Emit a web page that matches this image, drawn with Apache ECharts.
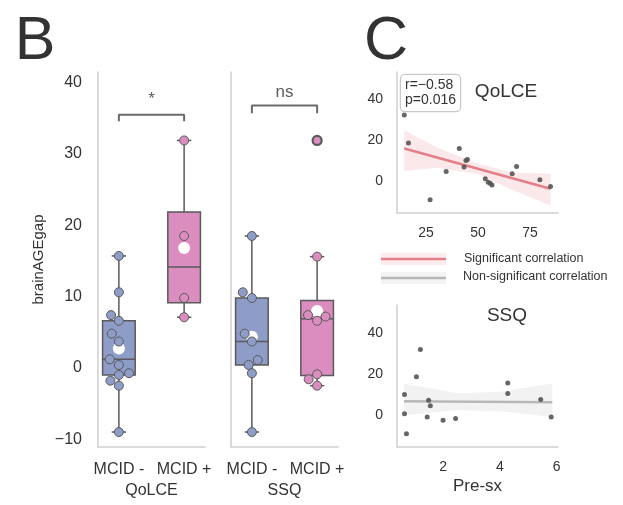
<!DOCTYPE html>
<html>
<head>
<meta charset="utf-8">
<script src="https://cdn.jsdelivr.net/npm/echarts@6/dist/echarts.min.js"></script>
<style>
  html, body { margin: 0; padding: 0; background: #fff; }
  #chart { width: 623px; height: 505px; }
</style>
</head>
<body>
<div id="chart"></div>
<script>
// ---- panel B: brainAGEgap by group (values + swarm offsets in category units)
const groupLabels = ['MCID -', 'MCID +'];
const bTicks = [-10, 0, 10, 20, 30, 40];

const qolceMinus   = [15.7, 10.6, 7.4, 6.6, 4.8, 3.7, 1.2, 0.4, -0.75, -1.0, -1.8, -2.5, -9.0];
const qolceMinusDx = [0, 0, -0.12, 0, -0.11, 0, -0.14, 0, 0.155, 0, -0.13, 0, 0];
const qolcePlus    = [31.9, 18.5, 9.8, 7.1];
const qolcePlusDx  = [0, 0, 0, 0];
const ssqMinus     = [18.5, 10.6, 9.8, 4.8, 3.7, 1.1, 0.4, -0.75, -9.0];
const ssqMinusDx   = [0, -0.14, 0, -0.11, 0, 0.09, -0.05, 0, 0];
const ssqPlus      = [31.9, 15.6, 7.4, 7.2, 6.6, -0.9, -1.6, -2.5];
const ssqPlusDx    = [0, 0, -0.14, 0.13, 0, 0, -0.13, 0];

// significance brackets [leg end, bar level] and label level
const bracketQolce = [34.6, 35.5, 37.6];
const bracketSsq   = [35.7, 36.8, 38.6];

// ---- panel C: correlations with brainAGEgap
const cTicksY = [0, 20, 40];
const qolceTicksX = [25, 50, 75];
const ssqTicksX = [2, 4, 6];

const qolceX = [14.6, 16.6, 27.0, 34.7, 41.0, 43.3, 44.2, 44.9, 53.5, 54.9, 55.8, 56.7, 66.4, 68.5, 79.7, 84.8];
const qolceY = [32.2, 18.6, -9.1, 4.7, 15.9, 6.9, 10.1, 10.6, 1.2, -0.5, -1.0, -1.8, 3.6, 7.2, 0.7, -2.6];
const qolceFitX = [14.6, 84.8];
const qolceFitY = [15.9, -3.7];
const qolceBandX  = [14.6, 30, 50, 66, 84.8];
const qolceBandHi = [24.8, 16.5, 8.6, 4.2, 3.6];
const qolceBandLo = [5.0, 6.5, 3.5, -4.0, -11.9];

const ssqX = [0.64, 0.64, 0.71, 1.06, 1.2, 1.44, 1.49, 1.55, 2.0, 2.44, 4.28, 4.28, 5.44, 5.81];
const ssqY = [10.1, 0.8, -9.0, 18.8, 32.1, -0.8, 7.3, 4.6, -2.4, -1.6, 15.8, 10.6, 7.7, -0.8];
const ssqFitX = [0.62, 5.85];
const ssqFitY = [6.8, 6.4];
const ssqBandX  = [0.62, 2.5, 4.0, 5.85];
const ssqBandHi = [15.5, 10.8, 11.5, 15.5];
const ssqBandLo = [0.0, 2.4, 2.0, -0.8];

const FONT = '"Liberation Sans", Arial, sans-serif';
const TXT = '#333';
const AXIS = '#cfcfcf';
const EDGE = '#5a5a5a';
const BLUE = '#8e9dc8';
const PINK = '#dc8dbf';

// box statistics (linear quantiles, 1.5 IQR whiskers)
function quantile(sorted, q) {
  const pos = (sorted.length - 1) * q;
  const lo = Math.floor(pos), hi = Math.ceil(pos);
  return sorted[lo] + (sorted[hi] - sorted[lo]) * (pos - lo);
}
function boxStats(vals) {
  const s = vals.slice().sort((a, b) => a - b);
  const q1 = quantile(s, 0.25), med = quantile(s, 0.5), q3 = quantile(s, 0.75);
  const iqr = q3 - q1;
  const inside = s.filter(v => v >= q1 - 1.5 * iqr && v <= q3 + 1.5 * iqr);
  const mean = vals.reduce((a, b) => a + b, 0) / vals.length;
  return { lo: inside[0], q1, med, q3, hi: inside[inside.length - 1], mean };
}

function renderBox(params, api) {
  const x = api.value(0);
  const lo = api.coord([x, api.value(1)]);
  const q1 = api.coord([x, api.value(2)]);
  const med = api.coord([x, api.value(3)]);
  const q3 = api.coord([x, api.value(4)]);
  const hi = api.coord([x, api.value(5)]);
  const hw = api.size([0.5, 0])[0] / 2;
  const cw = api.size([0.22, 0])[0] / 2;
  const ls = { stroke: EDGE, lineWidth: 1.5 };
  return {
    type: 'group',
    children: [
      { type: 'line', shape: { x1: lo[0], y1: lo[1], x2: q1[0], y2: q1[1] }, style: ls },
      { type: 'line', shape: { x1: q3[0], y1: q3[1], x2: hi[0], y2: hi[1] }, style: ls },
      { type: 'line', shape: { x1: lo[0] - cw, y1: lo[1], x2: lo[0] + cw, y2: lo[1] }, style: ls },
      { type: 'line', shape: { x1: hi[0] - cw, y1: hi[1], x2: hi[0] + cw, y2: hi[1] }, style: ls },
      { type: 'rect', shape: { x: q3[0] - hw, y: q3[1], width: hw * 2, height: q1[1] - q3[1] },
        style: { fill: api.visual('color'), stroke: EDGE, lineWidth: 1.5 } },
      { type: 'line', shape: { x1: med[0] - hw, y1: med[1], x2: med[0] + hw, y2: med[1] }, style: ls }
    ]
  };
}

function groupSeries(vals, dx, pos, color, gi) {
  const st = boxStats(vals);
  return [
    { type: 'custom', xAxisIndex: gi, yAxisIndex: gi, itemStyle: { color },
      renderItem: renderBox, data: [[pos, st.lo, st.q1, st.med, st.q3, st.hi]], z: 2 },
    { type: 'scatter', xAxisIndex: gi, yAxisIndex: gi, symbolSize: 12, z: 3,
      itemStyle: { color: '#fff', borderWidth: 0, opacity: 1 }, data: [[pos, st.mean]] },
    { type: 'scatter', xAxisIndex: gi, yAxisIndex: gi, symbolSize: 9, z: 4,
      data: vals.map((v, i) => ({
        value: [pos + dx[i], v],
        itemStyle: { color, opacity: 1, borderColor: EDGE,
                     borderWidth: (v > st.hi || v < st.lo) ? 2.2 : 1 }
      })) }
  ];
}

function bracketSeries(b, text, gi) {
  return [
    { type: 'line', xAxisIndex: gi, yAxisIndex: gi, symbol: 'none', z: 5,
      lineStyle: { color: '#6a6a6a', width: 2 },
      data: [[0, b[0]], [0, b[1]], [1, b[1]], [1, b[0]]] },
    { type: 'scatter', xAxisIndex: gi, yAxisIndex: gi, symbolSize: 1, z: 5,
      itemStyle: { color: 'rgba(0,0,0,0)' },
      label: { show: true, position: 'inside', formatter: text, color: TXT, fontSize: 17, fontFamily: FONT },
      data: [[0.5, b[2]]] }
  ];
}

function bandSeries(bx, hi, lo, color, gi) {
  return {
    type: 'custom', xAxisIndex: gi, yAxisIndex: gi, z: 1, silent: true,
    data: bx.map((x, i) => [x, lo[i], hi[i]]),
    renderItem(params, api) {
      if (params.dataIndex !== 0) return null;
      const pts = [];
      bx.forEach((x, i) => pts.push(api.coord([x, hi[i]])));
      for (let i = bx.length - 1; i >= 0; i--) pts.push(api.coord([bx[i], lo[i]]));
      return { type: 'polygon', shape: { points: pts }, style: { fill: color } };
    }
  };
}

const minusFmt = v => String(v).replace('-', '\u2212');

function yAx(gi, min, max, ticks, show, size, margin) {
  return {
    gridIndex: gi, type: 'value', min, max,
    axisLine: { show: true, onZero: false, lineStyle: { color: AXIS, width: 1.5 } },
    axisTick: { show: false }, splitLine: { show: false },
    axisLabel: { show, customValues: ticks, formatter: minusFmt, color: TXT,
                 fontSize: size, fontFamily: FONT, margin }
  };
}
function xAx(gi, min, max, ticks, fmt, size, margin, name, nameSize, nameGap) {
  return {
    gridIndex: gi, type: 'value', min, max,
    axisLine: { show: true, onZero: false, lineStyle: { color: AXIS, width: 1.5 } },
    axisTick: { show: false }, splitLine: { show: false },
    axisLabel: { customValues: ticks, formatter: fmt, color: TXT, fontSize: size,
                 fontFamily: FONT, margin },
    name, nameLocation: 'middle', nameGap,
    nameTextStyle: { color: TXT, fontSize: nameSize, fontFamily: FONT }
  };
}

const chart = echarts.init(document.getElementById('chart'));
const catFmt = v => groupLabels[Math.round(v)];

const option = {
  backgroundColor: '#fff',
  animation: false,
  grid: [
    { left: 98, top: 72, width: 107, height: 375 },
    { left: 231, top: 72, width: 107, height: 375 },
    { left: 397, top: 72, width: 161, height: 141 },
    { left: 397, top: 305, width: 161, height: 142 }
  ],
  xAxis: [
    xAx(0, -0.32, 1.32, [0, 1], catFmt, 16, 15, 'QoLCE', 16, 35),
    xAx(1, -0.32, 1.32, [0, 1], catFmt, 16, 15, 'SSQ', 16, 35),
    xAx(2, 11.1, 88.4, qolceTicksX, minusFmt, 14, 13, '', 14, 30),
    xAx(3, 0.376, 6.05, ssqTicksX, minusFmt, 14, 13, 'Pre-sx', 17, 31)
  ],
  yAxis: [
    Object.assign(yAx(0, -11.1, 41.5, bTicks, true, 16, 16), {
      name: 'brainAGEgap', nameLocation: 'middle', nameGap: 52,
      nameTextStyle: { color: TXT, fontSize: 15, fontFamily: FONT }
    }),
    yAx(1, -11.1, 41.5, bTicks, false, 16, 16),
    yAx(2, -15.5, 53.2, cTicksY, true, 14, 14),
    yAx(3, -15.5, 53.9, cTicksY, true, 14, 14)
  ],
  series: [
    ...groupSeries(qolceMinus, qolceMinusDx, 0, BLUE, 0),
    ...groupSeries(qolcePlus, qolcePlusDx, 1, PINK, 0),
    ...groupSeries(ssqMinus, ssqMinusDx, 0, BLUE, 1),
    ...groupSeries(ssqPlus, ssqPlusDx, 1, PINK, 1),
    ...bracketSeries(bracketQolce, '*', 0),
    ...bracketSeries(bracketSsq, 'ns', 1),

    bandSeries(qolceBandX, qolceBandHi, qolceBandLo, 'rgba(232,130,138,0.18)', 2),
    { type: 'line', xAxisIndex: 2, yAxisIndex: 2, symbol: 'none', z: 2,
      lineStyle: { color: '#e47f88', width: 2.5 },
      data: qolceFitX.map((x, i) => [x, qolceFitY[i]]) },
    { type: 'scatter', xAxisIndex: 2, yAxisIndex: 2, symbolSize: 5, z: 3,
      itemStyle: { color: '#555', opacity: 0.9 },
      data: qolceX.map((x, i) => [x, qolceY[i]]) },

    bandSeries(ssqBandX, ssqBandHi, ssqBandLo, 'rgba(170,170,170,0.15)', 3),
    { type: 'line', xAxisIndex: 3, yAxisIndex: 3, symbol: 'none', z: 2,
      lineStyle: { color: '#b8b8b8', width: 2.5 },
      data: ssqFitX.map((x, i) => [x, ssqFitY[i]]) },
    { type: 'scatter', xAxisIndex: 3, yAxisIndex: 3, symbolSize: 5, z: 3,
      itemStyle: { color: '#555', opacity: 0.9 },
      data: ssqX.map((x, i) => [x, ssqY[i]]) }
  ],
  graphic: [
    { type: 'text', x: 35, y: 42, style: { text: 'B', font: '61px ' + FONT, fill: '#333',
      textAlign: 'center', textVerticalAlign: 'middle' } },
    { type: 'text', x: 386, y: 42, style: { text: 'C', font: '61px ' + FONT, fill: '#333',
      textAlign: 'center', textVerticalAlign: 'middle' } },
    { type: 'text', x: 506, y: 92, style: { text: 'QoLCE', font: '19px ' + FONT, fill: TXT,
      textAlign: 'center', textVerticalAlign: 'middle' } },
    { type: 'text', x: 507, y: 316, style: { text: 'SSQ', font: '19px ' + FONT, fill: TXT,
      textAlign: 'center', textVerticalAlign: 'middle' } },
    { type: 'text', x: 401, y: 75, z: 10, style: { text: 'r=\u22120.58\np=0.016', font: '14px ' + FONT,
      fill: TXT, lineHeight: 15, backgroundColor: '#fff', borderColor: '#c8c8c8', borderWidth: 1.2,
      borderRadius: 4, padding: [3, 4, 3, 4] } },
    // legend
    { type: 'rect', shape: { x: 381, y: 253, width: 65, height: 12 }, style: { fill: 'rgba(232,130,138,0.15)' } },
    { type: 'line', shape: { x1: 381, y1: 259, x2: 446, y2: 259 }, style: { stroke: '#e47f88', lineWidth: 2.5 } },
    { type: 'rect', shape: { x: 381, y: 272, width: 65, height: 12 }, style: { fill: 'rgba(170,170,170,0.13)' } },
    { type: 'line', shape: { x1: 381, y1: 278, x2: 446, y2: 278 }, style: { stroke: '#b8b8b8', lineWidth: 2.5 } },
    { type: 'text', x: 464, y: 259, style: { text: 'Significant correlation', font: '12.5px ' + FONT,
      fill: TXT, textVerticalAlign: 'middle' } },
    { type: 'text', x: 463, y: 277, style: { text: 'Non-significant correlation', font: '12.5px ' + FONT,
      fill: TXT, textVerticalAlign: 'middle' } }
  ]
};

chart.setOption(option);
</script>
</body>
</html>
